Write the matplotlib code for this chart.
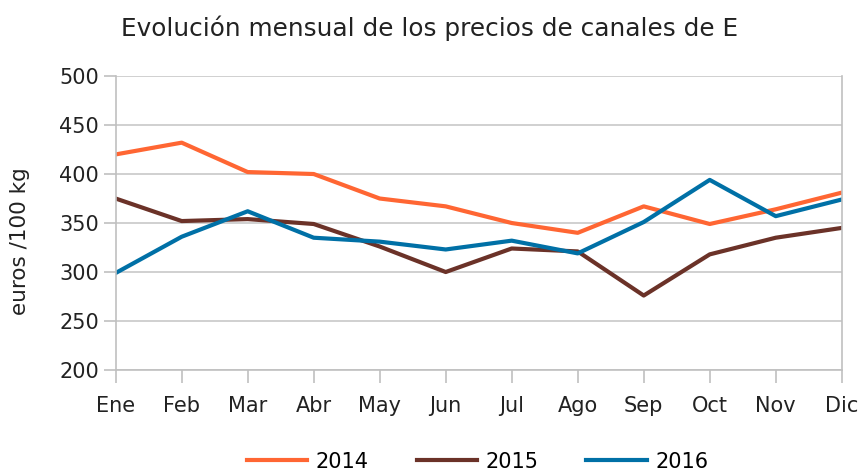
import matplotlib
matplotlib.use("Agg")
from matplotlib import pyplot as plt

months = ["Ene", "Feb", "Mar", "Abr", "May", "Jun",
          "Jul", "Ago", "Sep", "Oct", "Nov", "Dic"]
prices_2014 = [420, 432, 402, 400, 375, 367, 350, 340, 367, 349, 364, 381]
prices_2015 = [375, 352, 354, 349, 326, 300, 324, 321, 276, 318, 335, 345]
prices_2016 = [299, 336, 362, 335, 331, 323, 332, 319, 351, 394, 357, 374]
y_ticks = [200, 250, 300, 350, 400, 450, 500]

plt.rcParams['font.family'] = ['DejaVu Sans']

fig = plt.figure(figsize=(8.62, 4.71), dpi=100)
ax = fig.add_axes([0.1342, 0.2144, 0.8423, 0.6242])

x = list(range(len(months)))
ax.plot(x, prices_2014, color='#FF6633', lw=3, label='2014')
ax.plot(x, prices_2015, color='#6B3228', lw=3, label='2015')
ax.plot(x, prices_2016, color='#0070A6', lw=3, label='2016')

ax.set_xlim(0, 11)
ax.set_ylim(200, 500)
ax.set_xticks(x)
ax.set_xticklabels(months)
ax.set_yticks(y_ticks)
ax.grid(True, axis='y', color='#c8c8c8', lw=1.2)
ax.set_axisbelow(True)

for side in ['left', 'right', 'bottom']:
    ax.spines[side].set_color('#c0c0c0')
    ax.spines[side].set_linewidth(1.2)
ax.spines['top'].set_visible(False)
ax.tick_params(axis='both', colors='#c0c0c0', length=9, width=1.2,
               labelcolor='#222222', labelsize=15)
ax.tick_params(axis='x', pad=10)
ax.tick_params(axis='y', pad=3)

# y label sits a bit below the axes centre in the original
fig.text(20 / 862, 1 - 241 / 471, "euros /100 kg", rotation=90,
         fontsize=15.5, color='#222222', ha='center', va='center')
fig.text(0.498, 0.94, "Evolución mensual de los precios de canales de E",
         fontsize=17.8, color='#222222', ha='center', va='center')

fig.legend(loc='center', ncol=3, frameon=False, fontsize=15,
           bbox_to_anchor=(0.554, 0.02), handlelength=2.9,
           columnspacing=2.3, handletextpad=0.4)

fig.savefig("out.png", dpi=100)
